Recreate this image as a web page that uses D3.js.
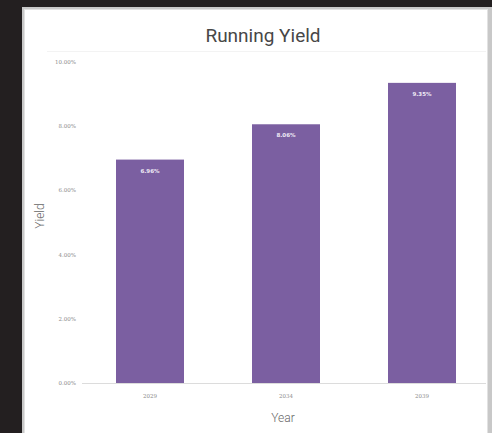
<!DOCTYPE html>
<html><head><meta charset="utf-8">
<script src="https://cdn.jsdelivr.net/npm/d3@7"></script>
<style>
html,body{margin:0;padding:0;background:#231f20;}
svg{display:block;}
</style></head>
<body>
<svg id="c" width="492" height="433"></svg>
<script>
const categories = ["2029", "2034", "2039"];
const values = [6.96, 8.06, 9.35];
const yTicks = [0, 2, 4, 6, 8, 10];
const title = "Running Yield";
const xTitle = "Year";
const yTitle = "Yield";

const svg = d3.select("#c");
// panel
svg.append("rect").attr("x", 22).attr("y", 7).attr("width", 470).attr("height", 430)
  .attr("fill", "#c8c8c8");
svg.append("rect").attr("x", 24.5).attr("y", 9.5).attr("width", 463).attr("height", 430)
  .attr("fill", "#ffffff").attr("stroke", "#e2e2e2").attr("stroke-width", 1);

svg.append("text").attr("x", 263).attr("y", 42).attr("text-anchor", "middle")
  .attr("font-family", "Roboto, sans-serif").attr("font-size", 19).attr("fill", "#474747")
  .text(title);

// top faint line
svg.append("line").attr("x1", 47).attr("x2", 486).attr("y1", 51.5).attr("y2", 51.5)
  .attr("stroke", "#f3f3f3");

const x = d3.scaleBand().domain(categories).range([82, 490]).paddingInner(0.5).paddingOuter(0.25);
const y = d3.scaleLinear().domain([0, 10]).range([383, 62]);

const g = svg.append("g");
// y ticks labels
g.selectAll(".yt").data(yTicks).enter().append("text")
  .attr("x", 76).attr("y", d => y(d) + 2).attr("text-anchor", "end")
  .attr("font-family", "DejaVu Serif, serif").attr("font-size", 5.5).attr("fill", "#8c8c8c")
  .text(d => d.toFixed(2) + "%");

// baseline
g.append("line").attr("x1", 82).attr("x2", 486).attr("y1", y(0) + 0.5).attr("y2", y(0) + 0.5)
  .attr("stroke", "#dcdcdc");

// bars
g.selectAll(".bar").data(values).enter().append("rect")
  .attr("x", (d, i) => x(categories[i]))
  .attr("width", x.bandwidth())
  .attr("y", d => y(d))
  .attr("height", d => y(0) - y(d))
  .attr("fill", "#7b5fa1");

g.selectAll(".lbl").data(values).enter().append("text")
  .attr("x", (d, i) => x(categories[i]) + x.bandwidth() / 2)
  .attr("y", d => y(d) + 13)
  .attr("text-anchor", "middle")
  .attr("font-family", "DejaVu Sans, sans-serif").attr("font-weight", "bold").attr("font-size", 5.5)
  .attr("fill", "#f0ecf6")
  .text(d => d.toFixed(2) + "%");

// x tick labels
g.selectAll(".xt").data(categories).enter().append("text")
  .attr("x", d => x(d) + x.bandwidth() / 2).attr("y", 398)
  .attr("text-anchor", "middle")
  .attr("font-family", "DejaVu Serif, serif").attr("font-size", 5.5).attr("fill", "#8c8c8c")
  .text(d => d);

svg.append("text").attr("x", 283).attr("y", 422).attr("text-anchor", "middle")
  .attr("font-family", "Roboto, sans-serif").attr("font-size", 12).attr("fill", "#666")
  .attr("font-weight", 300)
  .text(xTitle);

svg.append("text").attr("transform", "translate(44,216) rotate(-90)").attr("text-anchor", "middle")
  .attr("font-family", "Roboto, sans-serif").attr("font-size", 12).attr("fill", "#666")
  .attr("font-weight", 300)
  .text(yTitle);
</script>
</body></html>
